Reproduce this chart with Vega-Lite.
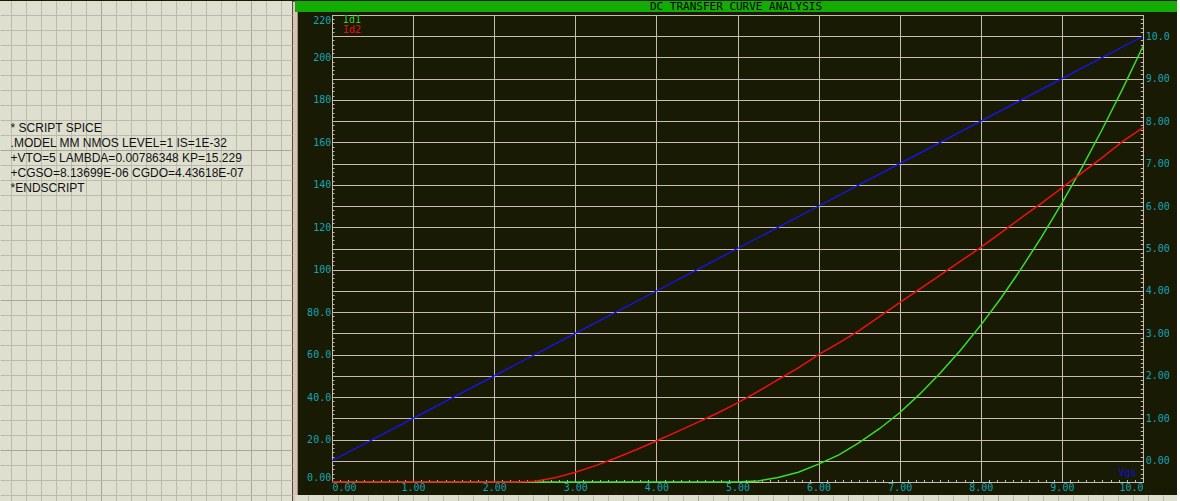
{
  "$schema": "https://vega.github.io/schema/vega-lite/v6.json",
  "padding": 0,
  "background": "#191a04",
  "spacing": 0,
  "resolve": {"legend": {"color": "independent"}},
  "datasets": {
    "currents": [
      {"Vgs": 0, "Id1": 0, "Id2": 0},
      {"Vgs": 0.25, "Id1": 0, "Id2": 0},
      {"Vgs": 0.5, "Id1": 0, "Id2": 0},
      {"Vgs": 0.75, "Id1": 0, "Id2": 0},
      {"Vgs": 1, "Id1": 0, "Id2": 0},
      {"Vgs": 1.25, "Id1": 0, "Id2": 0},
      {"Vgs": 1.5, "Id1": 0, "Id2": 0},
      {"Vgs": 1.75, "Id1": 0, "Id2": 0},
      {"Vgs": 2, "Id1": 0, "Id2": 0},
      {"Vgs": 2.25, "Id1": 0, "Id2": 0},
      {"Vgs": 2.5, "Id1": 0, "Id2": 0.4},
      {"Vgs": 2.75, "Id1": 0, "Id2": 2.0},
      {"Vgs": 3, "Id1": 0, "Id2": 4.6},
      {"Vgs": 3.25, "Id1": 0, "Id2": 7.7},
      {"Vgs": 3.5, "Id1": 0, "Id2": 11.3},
      {"Vgs": 3.75, "Id1": 0, "Id2": 15.2},
      {"Vgs": 4, "Id1": 0, "Id2": 19.3},
      {"Vgs": 4.25, "Id1": 0, "Id2": 23.6},
      {"Vgs": 4.5, "Id1": 0, "Id2": 28.0},
      {"Vgs": 4.75, "Id1": 0, "Id2": 32.4},
      {"Vgs": 5, "Id1": 0, "Id2": 37.3},
      {"Vgs": 5.25, "Id1": 0.5, "Id2": 42.6},
      {"Vgs": 5.5, "Id1": 2.1, "Id2": 48.2},
      {"Vgs": 5.75, "Id1": 4.6, "Id2": 53.8},
      {"Vgs": 6, "Id1": 8.4, "Id2": 60.0},
      {"Vgs": 6.25, "Id1": 12.8, "Id2": 65.5},
      {"Vgs": 6.5, "Id1": 18.5, "Id2": 71.3},
      {"Vgs": 6.75, "Id1": 25.1, "Id2": 77.9},
      {"Vgs": 7, "Id1": 32.6, "Id2": 84.5},
      {"Vgs": 7.25, "Id1": 41.5, "Id2": 91.0},
      {"Vgs": 7.5, "Id1": 51.3, "Id2": 97.4},
      {"Vgs": 7.75, "Id1": 62.1, "Id2": 104.0},
      {"Vgs": 8, "Id1": 73.9, "Id2": 110.5},
      {"Vgs": 8.25, "Id1": 86.7, "Id2": 117.5},
      {"Vgs": 8.5, "Id1": 100.6, "Id2": 124.5},
      {"Vgs": 8.75, "Id1": 115.5, "Id2": 131.4},
      {"Vgs": 9, "Id1": 131.4, "Id2": 138.6},
      {"Vgs": 9.25, "Id1": 148.3, "Id2": 145.7},
      {"Vgs": 9.5, "Id1": 166.3, "Id2": 152.9},
      {"Vgs": 9.75, "Id1": 185.3, "Id2": 160.5},
      {"Vgs": 10, "Id1": 205.3, "Id2": 167.0}
    ],
    "sweep": [
      {"Vgs": 0, "V": 0}, {"Vgs": 1, "V": 1}, {"Vgs": 2, "V": 2}, {"Vgs": 3, "V": 3},
      {"Vgs": 4, "V": 4}, {"Vgs": 5, "V": 5}, {"Vgs": 6, "V": 6}, {"Vgs": 7, "V": 7},
      {"Vgs": 8, "V": 8}, {"Vgs": 9, "V": 9}, {"Vgs": 10, "V": 10}
    ]
  },
  "hconcat": [
    {
      "width": 292,
      "height": 501,
      "view": {"fill": "#dfdfd0", "stroke": null},
      "data": {"values": [
        {"row": 1, "txt": "* SCRIPT SPICE"},
        {"row": 2, "txt": ".MODEL MM NMOS LEVEL=1 IS=1E-32"},
        {"row": 3, "txt": "+VTO=5 LAMBDA=0.00786348 KP=15.229"},
        {"row": 4, "txt": "+CGSO=8.13699E-06 CGDO=4.43618E-07"},
        {"row": 5, "txt": "*ENDSCRIPT"}
      ]},
      "mark": {"type": "text", "align": "left", "baseline": "middle", "font": "Liberation Sans", "fontSize": 12, "color": "#111111"},
      "encoding": {
        "x": {
          "datum": -0.05, "type": "quantitative",
          "scale": {"domain": [-0.7533, 18.7133], "nice": false, "zero": false},
          "axis": {
            "values": [0,1,2,3,4,5,6,7,8,9,10,11,12,13,14,15,16,17,18],
            "grid": true,
            "gridColor": {"condition": {"test": "datum.value === 6 || datum.value === 16", "value": "#a8a899"}, "value": "#bbbbac"},
            "gridWidth": 1,
            "labels": false, "ticks": false, "domain": false, "title": null,
            "minExtent": 0, "maxExtent": 0
          }
        },
        "y": {
          "field": "row", "type": "quantitative",
          "scale": {"domain": [-7.453, 25.947], "nice": false, "zero": false, "reverse": true},
          "axis": {
            "orient": "right",
            "values": [-6.5,-5.5,-4.5,-3.5,-2.5,-1.5,-0.5,0.5,1.5,2.5,3.5,4.5,5.5,6.5,7.5,8.5,9.5,10.5,11.5,12.5,13.5,14.5,15.5,16.5,17.5,18.5,19.5,20.5,21.5,22.5,23.5,24.5,25.5],
            "grid": true,
            "gridColor": {"condition": {"test": "datum.value === 2.5 || datum.value === 12.5 || datum.value === 22.5", "value": "#a8a899"}, "value": "#bbbbac"},
            "gridWidth": 1,
            "labels": false, "ticks": false,
            "domain": true, "domainColor": "#d9c3b8", "domainWidth": 5, "offset": 2.7,
            "title": null, "minExtent": 0, "maxExtent": 0
          }
        },
        "text": {"field": "txt"}
      }
    },
    {
      "spacing": 2,
      "resolve": {"legend": {"color": "independent"}},
      "vconcat": [
        {
          "width": 882,
          "height": 11,
          "view": {"fill": "#12ac02", "stroke": null},
          "data": {"values": [{"t": "DC TRANSFER CURVE ANALYSIS"}]},
          "mark": {"type": "text", "font": "DejaVu Sans Mono", "fontSize": 11, "color": "#000000", "baseline": "middle"},
          "encoding": {"text": {"field": "t"}}
        },
        {
          "spacing": 0,
          "resolve": {"legend": {"color": "independent"}},
          "hconcat": [
            {
              "width": 1,
              "height": 1,
              "view": {"stroke": null},
              "data": {"values": [{}]},
              "mark": {"type": "point", "size": 0, "opacity": 0, "strokeWidth": 0}
            },
            {
              "width": 811,
              "height": 467,
              "view": {"fill": "#191a04", "stroke": "#c8bab4", "strokeWidth": 1},
              "layer": [
                {
                  "data": {"name": "currents"},
                  "transform": [{"fold": ["Id1", "Id2"], "as": ["series", "I"]}],
                  "mark": {"type": "line", "strokeWidth": 1.5},
                  "encoding": {
                    "x": {
                      "field": "Vgs", "type": "quantitative",
                      "scale": {"domain": [0, 10], "nice": false, "zero": false},
                      "axis": {
                        "tickCount": 100,
                        "grid": true,
                        "gridOpacity": {"condition": {"test": "abs(datum.value - round(datum.value)) < 0.001", "value": 1}, "value": 0},
                        "labelExpr": "abs(datum.value - round(datum.value)) < 0.001 ? (datum.value === 0 ? '0.00' : format(datum.value, '.3r')) : ''",
                        "labelFontSize": {"condition": {"test": "abs(datum.value - round(datum.value)) < 0.001", "value": 10}, "value": 0},
                        "labelFlush": true, "labelOverlap": false,
                        "tickSize": -2.5, "labelPadding": 3, "domain": false,
                        "title": "Vgs", "titleColor": "#1010d8", "titleFont": "DejaVu Sans Mono", "titleFontSize": 10, "titleFontWeight": "normal",
                        "titleX": 804, "titleY": -10, "titleAlign": "right", "titleBaseline": "middle",
                        "minExtent": 0
                      }
                    },
                    "y": {
                      "field": "I", "type": "quantitative",
                      "scale": {"domain": [0, 220], "nice": false, "zero": false},
                      "axis": {
                        "tickCount": 110,
                        "grid": true,
                        "gridOpacity": {"condition": {"test": "datum.value % 10 === 0", "value": 1}, "value": 0},
                        "labelExpr": "datum.value % 20 === 0 ? (datum.value === 0 ? '0.00' : format(datum.value, '.3r')) : ''",
                        "labelFontSize": {"condition": {"test": "datum.value % 20 === 0", "value": 10}, "value": 0},
                        "labelFlush": true, "labelOverlap": false,
                        "tickSize": -2, "labelPadding": 3.3, "domain": false,
                        "title": null, "minExtent": 35, "maxExtent": 35
                      }
                    },
                    "color": {
                      "field": "series", "type": "nominal",
                      "scale": {"domain": ["Id1", "Id2"], "range": ["#3cdc28", "#f01010"]},
                      "legend": {
                        "orient": "top-left", "title": null, "offset": 0, "padding": 0,
                        "symbolSize": 25, "symbolStrokeWidth": 0, "symbolOpacity": 0,
                        "labelOffset": 1, "labelFont": "DejaVu Sans Mono", "labelFontSize": 10,
                        "rowPadding": 0,
                        "labelColor": {"expr": "datum.value === 'Id1' ? '#30d030' : '#e01010'"}
                      }
                    }
                  }
                },
                {
                  "data": {"name": "sweep"},
                  "mark": {"type": "line", "strokeWidth": 1.3, "color": "#1414ff"},
                  "encoding": {
                    "x": {"field": "Vgs", "type": "quantitative", "scale": {"domain": [0, 10], "nice": false, "zero": false}},
                    "y": {
                      "field": "V", "type": "quantitative",
                      "scale": {"domain": [-0.5, 10.5], "nice": false, "zero": false},
                      "axis": {
                        "orient": "right",
                        "tickCount": 110,
                        "grid": false,
                        "labelExpr": "abs(datum.value - round(datum.value)) < 0.001 ? (datum.value === 0 ? '0.00' : format(datum.value, '.3r')) : ''",
                        "labelFontSize": {"condition": {"test": "abs(datum.value - round(datum.value)) < 0.001", "value": 10}, "value": 0},
                        "labelFlush": true, "labelOverlap": false,
                        "tickSize": -2.7, "labelPadding": 5, "domain": false,
                        "title": null
                      }
                    }
                  }
                }
              ],
              "resolve": {"scale": {"y": "independent"}, "axis": {"y": "independent"}}
            }
          ]
        },
        {
          "width": 882,
          "height": 8,
          "view": {"fill": "#dfdfd0", "stroke": null},
          "data": {"values": [{}]},
          "mark": {"type": "point", "size": 0, "opacity": 0, "strokeWidth": 0},
          "encoding": {
            "x": {
              "datum": 20, "type": "quantitative",
              "scale": {"domain": [19.113, 77.913], "nice": false, "zero": false},
              "axis": {
                "tickCount": 58, "grid": true,
                "gridColor": {"condition": {"test": "datum.value % 10 === 6", "value": "#a8a899"}, "value": "#bbbbac"},
                "labels": false, "ticks": false, "domain": false, "title": null,
                "minExtent": 0, "maxExtent": 0
              }
            }
          }
        }
      ]
    }
  ],
  "config": {
    "axis": {
      "labelFont": "DejaVu Sans Mono",
      "labelFontSize": 10,
      "labelColor": "#14a4b4",
      "tickColor": "#c8bab4",
      "tickWidth": 1,
      "gridColor": "#c8bab4",
      "gridWidth": 1
    }
  }
}
